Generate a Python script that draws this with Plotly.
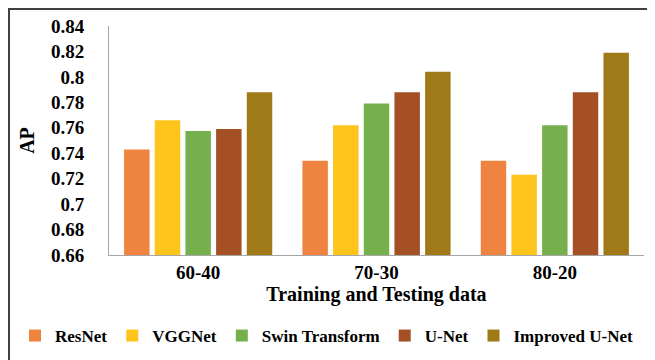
import plotly.graph_objects as go

categories = ["60-40", "70-30", "80-20"]
series_names = ["ResNet", "VGGNet", "Swin Transform", "U-Net", "Improved U-Net"]
resnet = [0.743, 0.734, 0.734]
vggnet = [0.766, 0.762, 0.723]
swin = [0.7575, 0.779, 0.762]
unet = [0.759, 0.788, 0.788]
improved = [0.788, 0.804, 0.819]
colors = ["#EE8440", "#FFC41C", "#76B04D", "#A55024", "#A07A18"]
y_ticks = [0.66, 0.68, 0.70, 0.72, 0.74, 0.76, 0.78, 0.80, 0.82, 0.84]
y_ticktext = ["0.66", "0.68", "0.7", "0.72", "0.74", "0.76", "0.78", "0.8", "0.82", "0.84"]

W, H = 655, 360
ML, MR, MT, MB = 101, 19, 18, 113

font_family = "Liberation Serif"

fig = go.Figure()
for name, vals, col in zip(series_names, [resnet, vggnet, swin, unet, improved], colors):
    fig.add_trace(go.Bar(
        x=categories, y=vals, name="<b>%s</b>" % name,
        marker=dict(color=col, line=dict(width=0)),
    ))

pw = W - ML - MR
ph = H - MT - MB
fig.add_shape(type="rect", xref="paper", yref="paper",
              x0=-(ML - 1) / pw, x1=1 + (MR - 1) / pw,
              y0=-(MB - 1) / ph, y1=1 + (MT - 1) / ph,
              line=dict(color="#404040", width=2), layer="above")

fig.update_layout(
    width=W, height=H,
    margin=dict(l=ML, r=MR, t=MT, b=MB, autoexpand=False),
    paper_bgcolor="white", plot_bgcolor="white",
    barmode="group", bargap=0.14, bargroupgap=0.17,
    font=dict(family=font_family, size=18, color="black"),
    showlegend=True,
    legend=dict(orientation="h", xref="paper", yref="paper",
                x=(7 - ML) / pw, xanchor="left",
                y=-(328 - (H - MB)) / ph, yanchor="middle",
                font=dict(family=font_family, size=17, color="black"),
                itemwidth=30, traceorder="normal"),
    xaxis=dict(
        showline=True, linecolor="#A6A6A6", linewidth=1,
        showgrid=False, ticks="", ticklen=0, tickfont=dict(size=19),
        tickprefix="<b>", ticksuffix="</b>", ticklabelstandoff=0,
        title=dict(text="<b>Training and Testing data</b>", font=dict(size=20), standoff=4),
    ),
    yaxis=dict(
        range=[0.66, 0.84], tickvals=y_ticks,
        ticktext=["<b>%s</b>" % t for t in y_ticktext],
        showline=True, linecolor="#A6A6A6", linewidth=1,
        showgrid=False, ticks="", ticklen=0, ticklabelstandoff=20,
        tickfont=dict(size=19),
        title=dict(text="<b>AP</b>", font=dict(size=20), standoff=10),
        zeroline=False,
    ),
)

fig.write_html("out.html")
